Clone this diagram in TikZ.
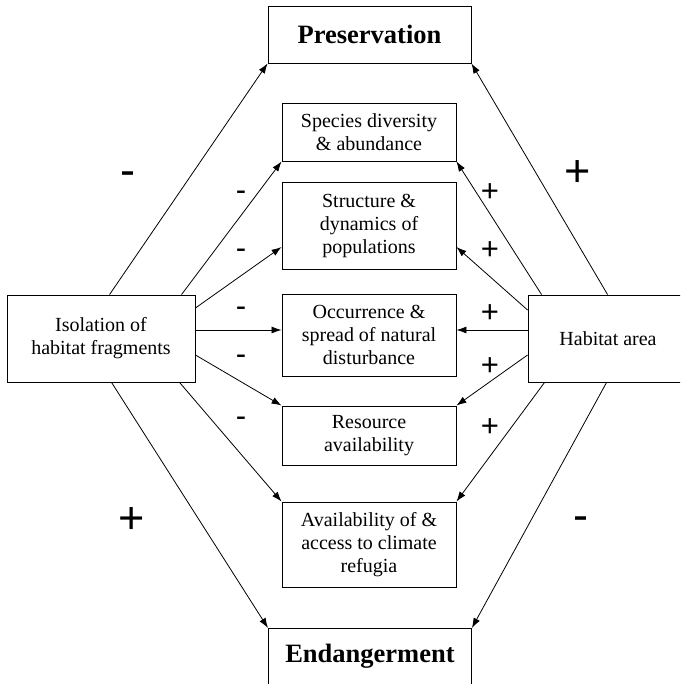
\documentclass[tikz,border=0pt]{standalone}
\usepackage{fontspec}
\setmainfont{Liberation Serif}
\newfontfamily\signfont{Liberation Sans}
\usetikzlibrary{arrows.meta,calc}
\begin{document}
\begin{tikzpicture}[x=1pt,y=-1pt,
  box/.style={draw, line width=0.9pt, align=center, inner sep=0pt, font=\fontsize{20}{23}\selectfont},
  title/.style={font=\bfseries\fontsize{26.5}{30}\selectfont},
  arr/.style={line width=0.8pt, -{Latex[length=10pt,width=7pt]}},
  sgn/.style={anchor=base, inner sep=0pt, font=\signfont\fontsize{31}{31}\selectfont},
  bigsgn/.style={anchor=base, inner sep=0pt, font=\signfont\fontsize{45}{45}\selectfont}]
\useasboundingbox (0,0) rectangle (680,684);
\clip (0,0) rectangle (680,684);
% outer boxes
\node[box, title, minimum width=203, minimum height=57] (pres) at (369.5,34.5) {Preservation};
\node[box, title, anchor=north west, minimum width=203, text height=34, text depth=40] (endg) at (268,628) {Endangerment};
\node[box, minimum width=188, minimum height=87] (iso) at (101,338.5) {Isolation of\\habitat fragments};
\node[box, minimum width=160, minimum height=87] (hab) at (608,338.5) {Habitat area};
% middle boxes
\node[box, minimum width=174, minimum height=58] (spec) at (369,132) {Species diversity\\\& abundance};
\node[box, minimum width=174, minimum height=87] (str) at (369,225.5) {Structure \&\\dynamics of\\populations};
\node[box, minimum width=174, minimum height=82] (occ) at (369,335) {Occurrence \&\\spread of natural\\disturbance};
\node[box, minimum width=174, minimum height=59] (res) at (369,435.5) {Resource\\availability};
\node[box, minimum width=174, minimum height=85] (avl) at (369,544.5) {Availability of \&\\access to climate\\refugia};
% left connectors
\draw[arr] ([xshift=103pt]iso.north west) -- (pres.south west);
\draw[arr] ([xshift=175pt]iso.north west) -- (spec.south west);
\draw[arr] ([yshift=30.5pt]iso.east) -- ([yshift=-21.5pt]str.west);
\draw[arr] ([yshift=8.5pt]iso.east) -- ([yshift=5pt]occ.west);
\draw[arr] ([yshift=-16.5pt]iso.east) -- (res.north west);
\draw[arr] ([xshift=173pt]iso.south west) -- (avl.north west);
\draw[arr] ([xshift=105pt]iso.south west) -- (endg.north west);
% right connectors
\draw[arr] ([xshift=80pt]hab.north west) -- (pres.south east);
\draw[arr] ([xshift=14pt]hab.north west) -- (spec.south east);
\draw[arr] ([yshift=28.5pt]hab.west) -- ([yshift=-21.5pt]str.east);
\draw[arr] ([yshift=8.5pt]hab.west) -- ([yshift=5pt]occ.east);
\draw[arr] ([yshift=-16.5pt]hab.west) -- (res.north east);
\draw[arr] ([xshift=17pt]hab.south west) -- (avl.north east);
\draw[arr] ([xshift=79pt]hab.south west) -- (endg.north east);
% signs
\node[bigsgn] (s1) at (128,185.4) {-};
\node[bigsgn] (s2) at (578,186.2) {+};
\node[bigsgn] (s3) at (132,533.2) {+};
\node[bigsgn] (s4) at (581,530.4) {-};
\node[sgn] (m1) at (241,200.5) {-};
\node[sgn] (m2) at (241,258.5) {-};
\node[sgn] (m3) at (241,316) {-};
\node[sgn] (m4) at (241,364) {-};
\node[sgn] (m5) at (241,426) {-};
\node[sgn] (p1) at (490,201.2) {+};
\node[sgn] (p2) at (490,259.2) {+};
\node[sgn] (p3) at (490,322.7) {+};
\node[sgn] (p4) at (490,375.2) {+};
\node[sgn] (p5) at (490,436.2) {+};
\end{tikzpicture}
\end{document}
